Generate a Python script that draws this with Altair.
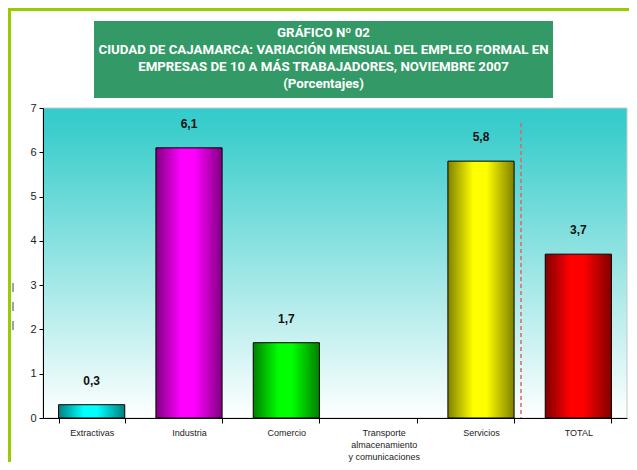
import altair as alt
import pandas as pd

# ---------------- data ----------------
categories = ["Extractivas", "Industria", "Comercio",
              "Transporte|almacenamiento|y comunicaciones", "Servicios", "TOTAL"]
values = [0.3, 6.1, 1.7, None, 5.8, 3.7]
bright_colors = ["#00FFFF", "#FF00FF", "#00FF00", None, "#FFFF00", "#FF0000"]
dark_colors = ["#008080", "#800080", "#008000", None, "#808000", "#800000"]
y_ticks = [0, 1, 2, 3, 4, 5, 6, 7]
title_lines = [
    "GRÁFICO Nº 02",
    "CIUDAD DE CAJAMARCA: VARIACIÓN MENSUAL DEL EMPLEO FORMAL EN",
    "EMPRESAS DE 10 A MÁS TRABAJADORES, NOVIEMBRE 2007",
    "(Porcentajes)",
]

df = pd.DataFrame({"cat": categories, "val": values})

W, H = 584, 310
NARROW = "Roboto, Liberation Sans, sans-serif"
SANS = "Liberation Sans, Arial, sans-serif"

x_enc = alt.X(
    "cat:N",
    sort=categories,
    scale=alt.Scale(domain=categories, paddingInner=0.32, paddingOuter=0.16),
    axis=alt.Axis(
        title=None, labelAngle=0, tickBand="extent", domainColor="#000000",
        tickColor="#000000", tickSize=5, labelFontSize=9, labelFont=SANS,
        labelColor="#222222", labelPadding=5, labelLineHeight=12,
        labelExpr="datum.value ? split(datum.value, '|') : ''",
        labelBaseline="top", zindex=2,
    ),
)
y_enc = alt.Y(
    "val:Q",
    scale=alt.Scale(domain=[0, 7], nice=False),
    axis=alt.Axis(
        title=None, values=y_ticks, grid=False, domainColor="#000000",
        tickColor="#000000", tickSize=4, labelFontSize=11, labelFont=SANS,
        labelColor="#222222", labelPadding=3, zindex=2,
    ),
)

one = alt.Data(values=[{"a": 1}])

# plot-area gradient background
bg = alt.Chart(one).mark_rect(
    color=alt.LinearGradient(
        gradient="linear", x1=0, y1=0, x2=0, y2=1,
        stops=[alt.GradientStop(offset=0, color="#33CCCC"),
               alt.GradientStop(offset=0.06, color="#3ACDCB"),
               alt.GradientStop(offset=1, color="#FFFFFF")],
    ),
    stroke="#C8C8C8", strokeWidth=1,
).encode(x=alt.value(0), x2=alt.value(W), y=alt.value(0), y2=alt.value(H))

# green page frame
frame_left = alt.Chart(one).mark_rect(color="#99CC00").encode(
    x=alt.value(-35), x2=alt.value(-32), y=alt.value(-100), y2=alt.value(H + 60))
frame_top = alt.Chart(one).mark_rect(color="#99CC00").encode(
    x=alt.value(-35), x2=alt.value(W + 10), y=alt.value(-100), y2=alt.value(-97))

# title box
title_box = alt.Chart(one).mark_rect(color="#339966").encode(
    x=alt.value(51), x2=alt.value(510), y=alt.value(-87), y2=alt.value(-10))
title_text = alt.Chart(one).mark_text(
    text=title_lines, color="#FFFFFF", font=NARROW, fontWeight="bold",
    fontSize=13.3, lineHeight=17, baseline="middle", align="center",
).encode(x=alt.value(280.5), y=alt.value(-75))

base = alt.Chart(df).encode(x=x_enc, y=y_enc)

bar_layers = []
for c, v, b, d in zip(categories, values, bright_colors, dark_colors):
    if v is None:
        continue
    grad = alt.LinearGradient(
        gradient="linear", x1=0, y1=0, x2=1, y2=0,
        stops=[alt.GradientStop(offset=0, color=d),
               alt.GradientStop(offset=0.38, color=b),
               alt.GradientStop(offset=0.58, color=b),
               alt.GradientStop(offset=1, color=d)],
    )
    bar_layers.append(
        base.mark_bar(color=grad, stroke="#000000", strokeWidth=1)
        .transform_filter(alt.datum.cat == c)
    )

labels = base.transform_filter("isValid(datum.val)").transform_calculate(
    lab="replace(format(datum.val, '.1f'), '.', ',')"
).mark_text(
    dy=-24, fontWeight="bold", fontSize=12, font=SANS, color="#111111",
    baseline="middle",
).encode(text="lab:N")

sep = alt.Chart(one).mark_rule(
    color="#E06666", strokeDash=[4, 3], strokeWidth=1.5
).encode(x=alt.value(478), y=alt.value(15), y2=alt.value(H))

artifact = alt.Chart(one).mark_rule(
    color="#444444", strokeDash=[9, 10], strokeWidth=1
).encode(x=alt.value(-30), y=alt.value(175), y2=alt.value(222))

chart = alt.layer(
    frame_left, frame_top, title_box, title_text, bg, *bar_layers, labels, sep, artifact
).properties(
    width=W, height=H,
    autosize=alt.AutoSizeParams(type="none"),
    padding={"left": 35, "top": 100, "right": 2, "bottom": 44},
    background="#FFFFFF",
).configure_view(stroke=None)

chart.save("out.html", embed_options={"renderer": "svg", "actions": False})
